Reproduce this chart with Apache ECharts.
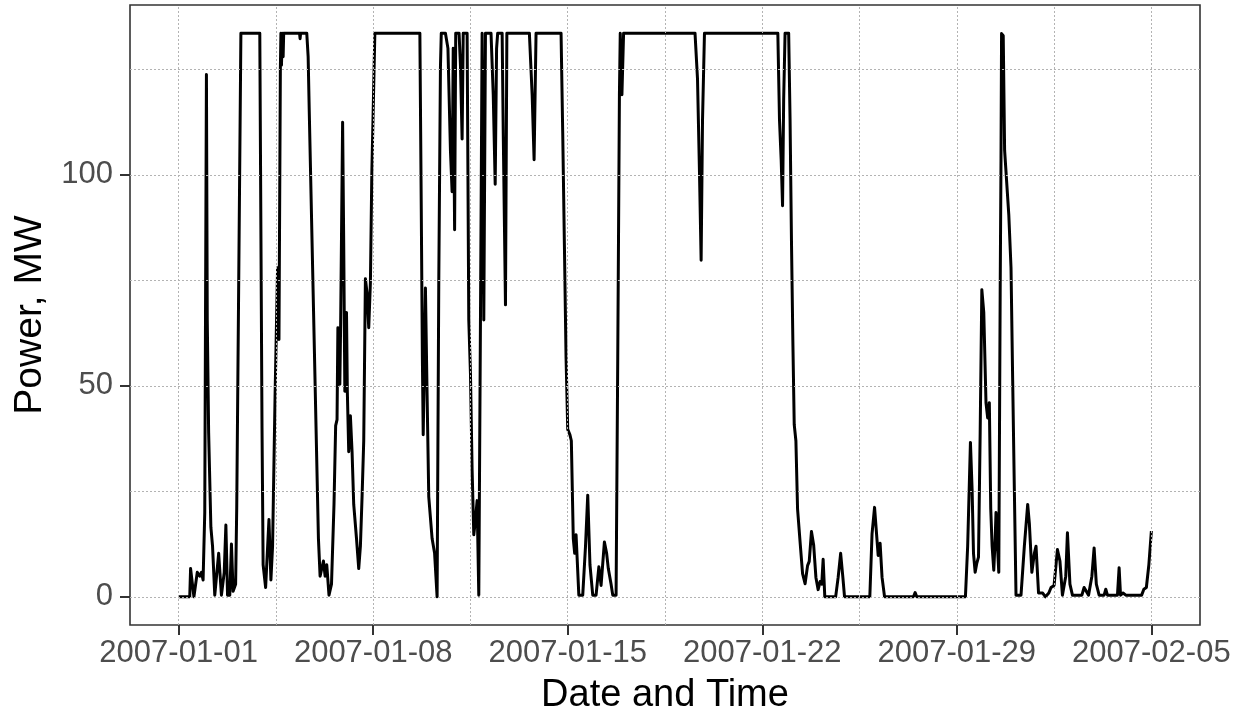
<!DOCTYPE html>
<html>
<head>
<meta charset="utf-8">
<script src="https://cdn.jsdelivr.net/npm/echarts@6/dist/echarts.min.js"></script>
<style>
html,body{margin:0;padding:0;background:#fff;}
#chart{width:1244px;height:717px;}
</style>
</head>
<body>
<div id="chart"></div>
<script>
// Days since 2007-01-01 00:00
const dayOffset = [
0,0.40,0.43,0.55,0.67,0.76,0.82,0.88,0.94,1.00,1.03,1.08,1.16,1.22,1.30,1.44,1.54,1.64,1.70,1.76,1.84,1.90,1.96,2.05,2.09,2.24,2.92,3.00,3.04,3.13,3.25,3.32,3.38,3.47,3.56,3.61,3.66,3.68,3.70,3.73,3.76,3.78,4.35,4.37,4.39,4.61,4.66,4.70,5.03,5.09,5.21,5.27,5.33,5.41,5.50,5.59,5.65,5.70,5.73,5.80,5.83,5.90,5.94,5.98,6.04,6.07,6.12,6.18,6.24,6.30,6.40,6.48,6.54,6.60,6.66,6.72,6.78,6.84,6.90,6.95,7.06,8.68,8.73,8.77,8.80,8.84,8.88,8.94,9.00,9.12,9.21,9.30,9.36,9.42,9.45,9.60,9.69,9.78,9.84,9.88,9.93,9.97,10.09,10.14,10.20,10.24,10.38,10.44,10.50,10.56,10.62,10.68,10.74,10.80,10.86,10.92,10.98,11.04,11.24,11.32,11.39,11.44,11.48,11.64,11.68,11.76,11.81,12.62,12.72,12.79,12.86,13.76,13.82,13.88,13.94,14.00,14.08,14.13,14.20,14.25,14.30,14.40,14.54,14.64,14.72,14.80,14.90,15.02,15.12,15.20,15.32,15.40,15.46,15.56,15.62,15.74,15.80,15.86,15.89,15.95,16.01,18.58,18.67,18.74,18.80,18.85,18.92,21.56,21.62,21.68,21.73,21.77,21.82,21.95,22.00,22.05,22.10,22.15,22.21,22.27,22.31,22.37,22.45,22.54,22.63,22.69,22.77,22.85,22.93,23.01,23.08,23.14,23.19,23.25,23.64,23.73,23.82,23.90,23.96,24.87,24.95,25.04,25.10,25.17,25.24,25.31,25.40,26.44,26.50,26.56,28.31,28.39,28.49,28.55,28.60,28.66,28.72,28.78,28.84,28.90,28.97,29.05,29.11,29.17,29.22,29.27,29.33,29.38,29.41,29.45,29.51,29.56,29.59,29.61,29.67,29.72,29.79,29.87,29.95,30.01,30.07,30.13,30.31,30.43,30.55,30.61,30.70,30.79,30.85,30.94,31.09,31.19,31.31,31.39,31.50,31.62,31.71,31.80,31.92,31.98,32.07,32.16,32.50,32.58,32.64,32.74,32.86,32.94,33.02,33.12,33.30,33.36,33.42,33.78,33.84,33.89,33.98,34.08,34.65,34.73,34.82,34.91,35.00
];
// Power, MW
const powerMW = [
0,0,6.7,0,5.8,4.9,5.8,4,20,123.8,65.6,38.8,16.5,12,0.4,10.3,0.4,5.8,17,0.4,0.4,12.5,1.3,3,21,133.6,133.6,40,7.6,2.2,18.3,4,12,47.8,78,61,125,133.6,126,133.6,128,133.6,133.6,132.3,133.6,133.6,128,115,13.8,4.9,8.5,4.9,7.6,0.4,3,21.9,40.6,42,63.8,50.4,65,112.5,83.5,48.7,67.4,48.7,34.4,42.9,34.4,21.9,13.8,6.7,12,23.7,37,75.4,72,63.8,74.5,100,133.6,133.6,92,56.7,38.4,55,73.2,47.8,23.7,13.8,10.3,0,74.5,125.4,133.6,133.6,130,105.8,96,130,87,133.6,133.6,126,108.5,133.6,133.6,65.6,53,30,14.7,18.3,22.8,0.4,65.6,133.6,65.6,133.6,133.6,119,97.8,130,133.6,133.6,110,69.2,133.6,133.6,119,103.6,133.6,133.6,110,83.5,56.7,39.7,38.4,37,13.8,10.3,14.7,0.4,0.4,12,24.1,7.6,0.4,0.4,7.1,2.7,13,10.3,6.7,3,0.4,0.4,56.7,119,133.6,119,133.6,133.6,122.7,100.8,79.8,113,133.6,133.6,113,103.6,92.7,118,133.6,133.6,113,84.6,60.8,40.8,37,20.8,21.2,12.2,5.5,3.1,7.4,8.4,15.5,12.2,4.6,1.7,3.6,3,8.9,0,0,4.6,10.3,4.6,0,0,15,21.2,20.8,9.8,12.7,4.6,0,0,1,0,0,12,36.6,25.4,10.3,5.8,8,9.4,38.8,72.8,67.4,46,42.4,46,21,12,6.3,13.8,20,13.8,5.8,71.9,104,133.5,133,105.8,106,90.6,78,51.3,25.4,0.4,0.4,12,21.9,17.4,5.8,10.3,12,0.9,0.9,0,0.9,2.2,2.7,11.2,8.5,0.4,4.9,15.2,3,0.4,0.4,2.2,1.8,0.4,4.9,11.6,3,0.4,0.4,1.8,0.4,0.4,6.9,0.4,0.9,0.4,0.4,1.8,2.2,7.6,15.6
];
const xTickDays = [0, 7, 14, 21, 28, 35];
const xTickLabels = ['2007-01-01', '2007-01-08', '2007-01-15', '2007-01-22', '2007-01-29', '2007-02-05'];
const xMinorDays = [3.5, 10.5, 17.5, 24.5, 31.5];
const yTicks = [0, 50, 100];
const yMinor = [25, 75, 125];

const seriesData = dayOffset.map((d, i) => [d, powerMW[i]]);
const gridLineStyle = { color: '#b3b3b3', type: [2, 2], width: 1 };
const gridMarks = []
  .concat(xTickDays.concat(xMinorDays).map(v => ({ xAxis: v })))
  .concat(yTicks.concat(yMinor).map(v => ({ yAxis: v })));

const FONT = 'Liberation Sans, Arial, Helvetica, sans-serif';
const chart = echarts.init(document.getElementById('chart'), null, { renderer: 'canvas' });
chart.setOption({
  animation: false,
  backgroundColor: '#ffffff',
  grid: {
    left: 130, right: 44, top: 5, bottom: 92,
    containLabel: false,
    outerBoundsMode: 'none',
    show: true, borderColor: '#333333', borderWidth: 1.6, backgroundColor: 'transparent',
    z: 3
  },
  xAxis: {
    type: 'value',
    min: -1.75, max: 36.75,
    name: 'Date and Time',
    nameLocation: 'middle',
    nameGap: 52,
    nameTextStyle: { fontFamily: FONT, fontSize: 38, color: '#000000' },
    axisLine: { show: false, onZero: false },
    splitLine: { show: false },
    axisTick: { show: true, customValues: xTickDays, length: 10, lineStyle: { color: '#333333', width: 2 } },
    axisLabel: {
      customValues: xTickDays,
      margin: 13,
      fontFamily: FONT, fontSize: 31, color: '#4d4d4d',
      formatter: v => { const i = xTickDays.indexOf(v); return i >= 0 ? xTickLabels[i] : ''; }
    }
  },
  yAxis: {
    type: 'value',
    min: -6.68, max: 140.28,
    name: 'Power, MW',
    nameLocation: 'middle',
    nameGap: 80,
    nameTextStyle: { fontFamily: FONT, fontSize: 39, color: '#000000' },
    axisLine: { show: false, onZero: false },
    splitLine: { show: false },
    axisTick: { show: true, customValues: yTicks, length: 10, lineStyle: { color: '#333333', width: 2 } },
    axisLabel: {
      customValues: yTicks,
      margin: 17,
      fontFamily: FONT, fontSize: 31, color: '#4d4d4d'
    }
  },
  series: [
    {
      type: 'line',
      data: [],
      z: 1,
      silent: true,
      markLine: {
        silent: true,
        symbol: ['none', 'none'],
        label: { show: false },
        lineStyle: gridLineStyle,
        emphasis: { disabled: true },
        data: gridMarks
      }
    },
    {
      type: 'line',
      data: seriesData,
      z: 2,
      showSymbol: false,
      symbol: 'none',
      lineStyle: { color: '#000000', width: 3, join: 'round' },
      clip: true
    }
  ]
});
</script>
</body>
</html>
